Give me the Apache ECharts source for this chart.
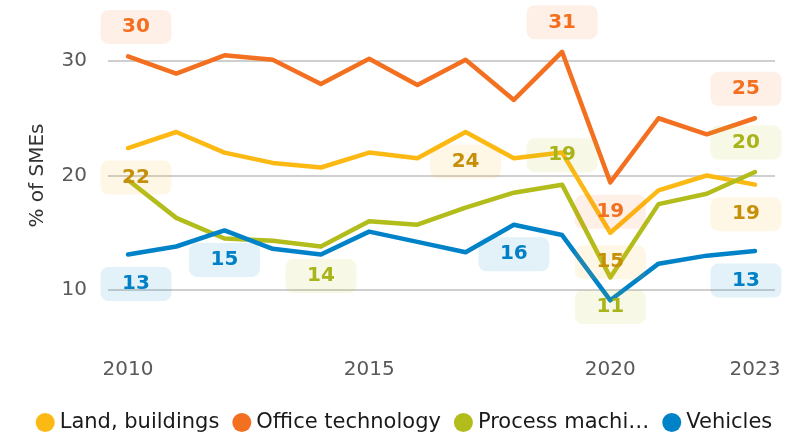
<!DOCTYPE html>
<html>
<head>
<meta charset="utf-8">
<script src="https://cdn.jsdelivr.net/npm/echarts@6/dist/echarts.min.js"></script>
<style>html,body{margin:0;padding:0;background:#fff;}#chart{width:808px;height:436px;}</style>
</head>
<body>
<div id="chart"></div>
<script>
// ---- data ----
const years = [2010, 2011, 2012, 2013, 2014, 2015, 2016, 2017, 2018, 2019, 2020, 2021, 2022, 2023];
const xTickLabels = [2010, 2015, 2020, 2023];
const yTicks = [10, 20, 30];
const seriesNames = ['Land, buildings', 'Office technology', 'Process machinery', 'Vehicles'];
const landBuildings    = [22.4, 23.8, 22.0, 21.1, 20.7, 22.0, 21.5, 23.8, 21.5, 22.0, 15.0, 18.7, 20.0, 19.2];
const officeTechnology = [30.4, 28.9, 30.5, 30.1, 28.0, 30.2, 27.9, 30.1, 26.6, 30.8, 19.4, 25.0, 23.6, 25.0];
const processMachinery = [19.6, 16.3, 14.5, 14.3, 13.8, 16.0, 15.7, 17.2, 18.5, 19.2, 11.1, 17.5, 18.4, 20.3];
const vehicles         = [13.1, 13.8, 15.2, 13.6, 13.1, 15.1, 14.2, 13.3, 15.7, 14.8, 9.1, 12.3, 13.0, 13.4];
const labelledLand    = [0, 7, 10, 13];
const labelledOffice  = [0, 9, 10, 13];
const labelledProcess = [4, 9, 10, 13];
const labelledVehicle = [0, 2, 8, 13];

// ---- styling / construction ----
const FONT = 'DejaVu Sans';
const styles = [
  {line: '#FDB913', text: '#C58F0A', bg: 'rgba(253,185,19,0.11)', idx: labelledLand, below: [0, 7, 10, 13]},
  {line: '#F37021', text: '#F37021', bg: 'rgba(243,112,33,0.11)', idx: labelledOffice, below: [10]},
  {line: '#B2BC1B', text: '#A9B41A', bg: 'rgba(178,188,27,0.11)', idx: labelledProcess, below: [4, 10]},
  {line: '#0082C8', text: '#0080C6', bg: 'rgba(0,130,200,0.11)', idx: labelledVehicle, below: [0, 2, 8, 13]}
];
const values = [landBuildings, officeTechnology, processMachinery, vehicles];

const series = seriesNames.map((name, s) => {
  const st = styles[s];
  return {
    name: name,
    type: 'line',
    color: st.line,
    clip: false,
    symbol: 'circle',
    symbolSize: 1,
    showSymbol: true,
    lineStyle: {width: 4.5, color: st.line, cap: 'round', join: 'round'},
    emphasis: {disabled: true},
    data: values[s].map((v, i) => {
      const item = {value: [years[i], v]};
      if (st.idx.indexOf(i) >= 0) {
        let dx = 0;
        if (i === 0) dx = 8;
        if (i === years.length - 1) dx = -9;
        item.label = {
          show: true,
          position: st.below.indexOf(i) >= 0 ? 'bottom' : 'top',
          distance: 29,
          offset: [dx, 0],
          formatter: p => String(Math.round(p.value[1])),
          color: st.text,
          fontFamily: FONT,
          fontWeight: 'bold',
          fontSize: 20,
          backgroundColor: st.bg,
          borderRadius: 8,
          width: 71,
          height: 34,
          lineHeight: 34,
          padding: 0,
          align: 'center',
          verticalAlign: 'middle'
        };
      }
      return item;
    })
  };
});

const chart = echarts.init(document.getElementById('chart'), null, {renderer: 'canvas'});
chart.setOption({
  animation: false,
  grid: {left: 108, right: 33, top: 61, bottom: 146},
  legend: {
    data: seriesNames,
    top: 407,
    left: 'center',
    icon: 'circle',
    itemWidth: 19,
    itemHeight: 19,
    itemGap: 13,
    formatter: n => n === 'Process machinery' ? 'Process machi…' : n,
    textStyle: {fontFamily: FONT, fontSize: 21, color: '#1a1a1a'}
  },
  xAxis: {
    type: 'value',
    min: 2009.585,
    max: 2023.415,
    axisLine: {show: false},
    axisTick: {show: false},
    splitLine: {show: false},
    axisLabel: {
      customValues: xTickLabels,
      margin: 70,
      fontFamily: FONT,
      fontSize: 20,
      color: '#595959',
      formatter: v => String(v)
    }
  },
  yAxis: {
    type: 'value',
    min: yTicks[0],
    max: yTicks[yTicks.length - 1],
    interval: 10,
    name: '% of SMEs',
    nameLocation: 'middle',
    nameGap: 60,
    nameTextStyle: {fontFamily: FONT, fontSize: 20, color: '#333'},
    axisLine: {show: false},
    axisTick: {show: false},
    axisLabel: {margin: 21, fontFamily: FONT, fontSize: 20, color: '#595959'},
    splitLine: {lineStyle: {color: '#cfcfcf', width: 2}}
  },
  series: series
});
</script>
</body>
</html>
